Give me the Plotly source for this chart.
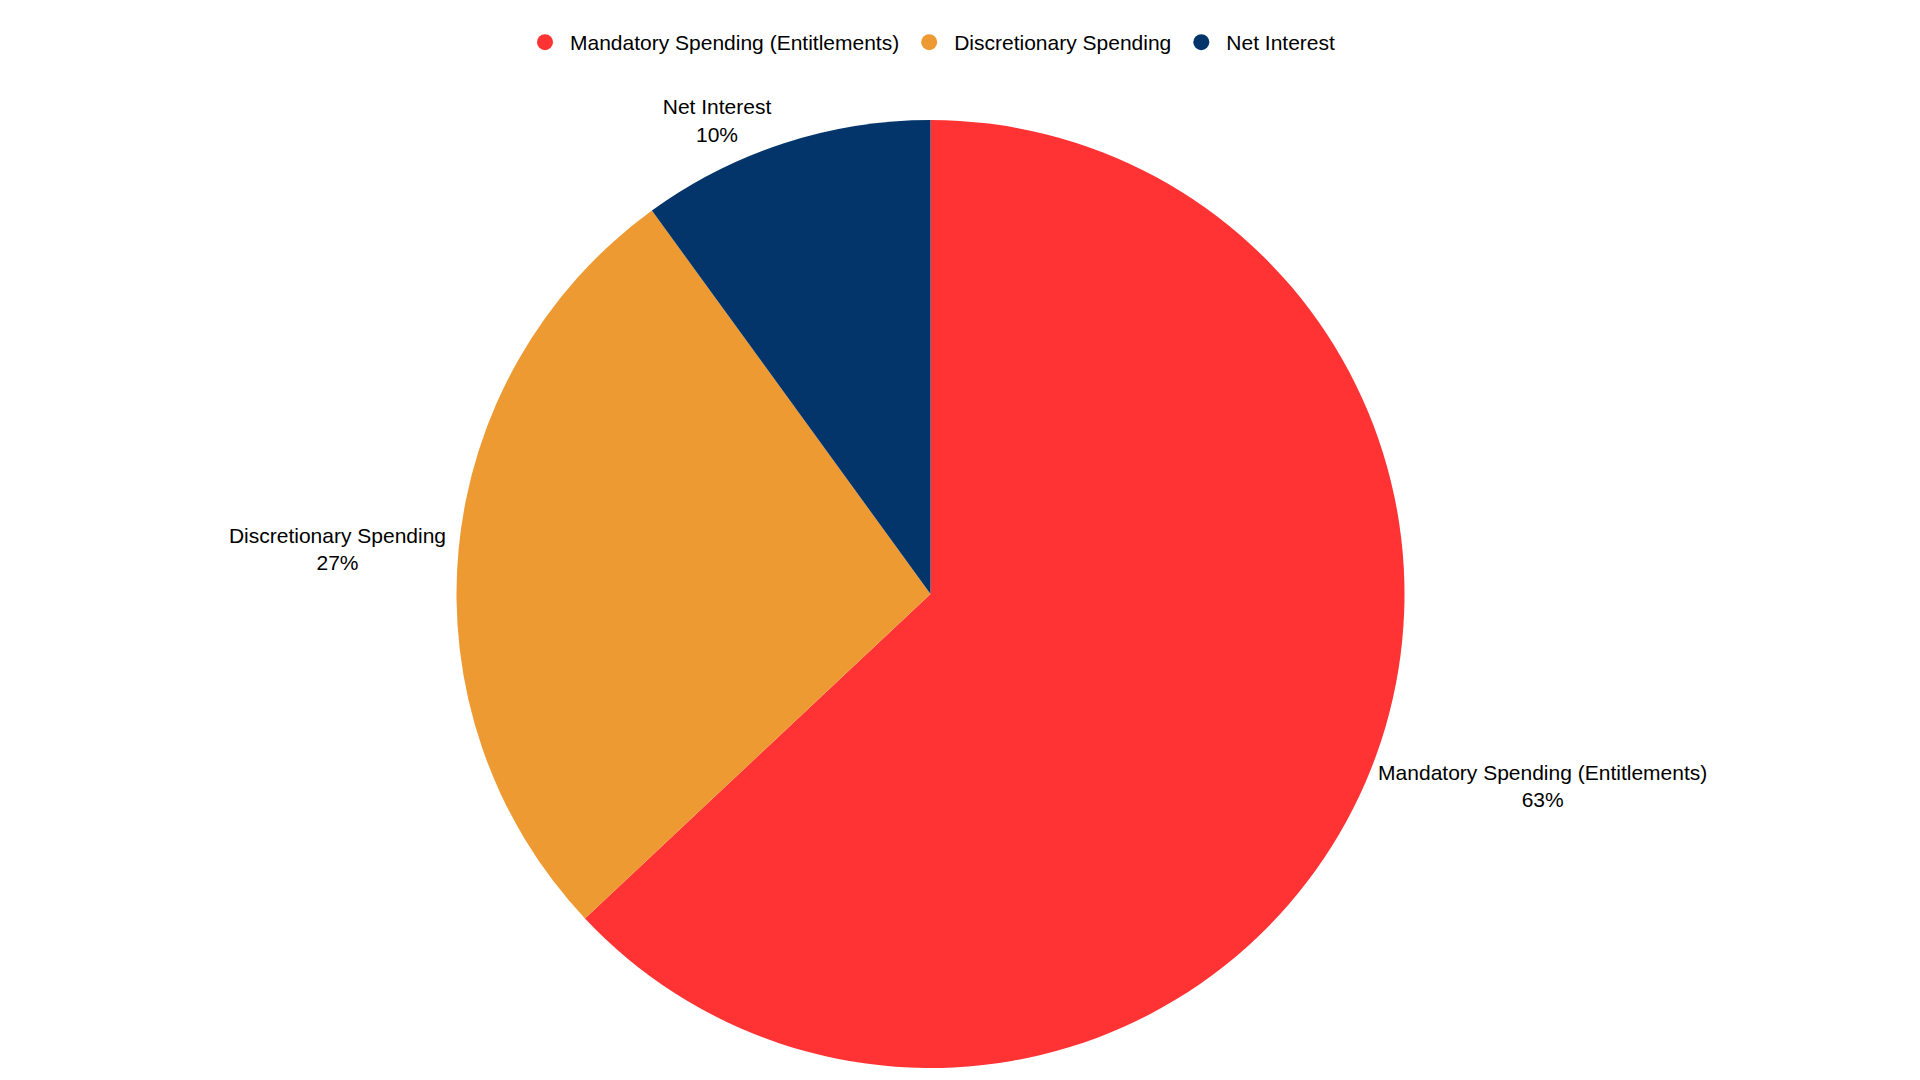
import plotly.graph_objects as go

labels = ["Mandatory Spending (Entitlements)", "Discretionary Spending", "Net Interest"]
values = [63, 27, 10]
colors = ["#FF3333", "#EE9A33", "#03356A"]

fig = go.Figure()
fig.add_trace(go.Pie(labels=labels, values=values, marker=dict(colors=colors),
                     sort=False, direction="clockwise", rotation=0,
                     textposition="outside", textinfo="label+percent",
                     texttemplate="%{label}<br>%{percent:.0%}",
                     textfont=dict(size=21, color="black"), showlegend=False))
for l, c in zip(labels, colors):
    fig.add_trace(go.Scatter(x=[None], y=[None], mode="markers", name=l,
                             marker=dict(color=c, size=22, symbol="circle")))
fig.update_layout(
    width=1920, height=1080, paper_bgcolor="white", plot_bgcolor="white",
    font=dict(family="Liberation Sans, Arial", size=21, color="black"),
    margin=dict(t=112, b=20, l=42, r=0),
    xaxis=dict(visible=False), yaxis=dict(visible=False),
    legend=dict(orientation="h", x=0.5, xanchor="center", yref="container",
                y=0.968, yanchor="middle", font=dict(size=21), itemwidth=40),
)
fig.write_html("out.html")
